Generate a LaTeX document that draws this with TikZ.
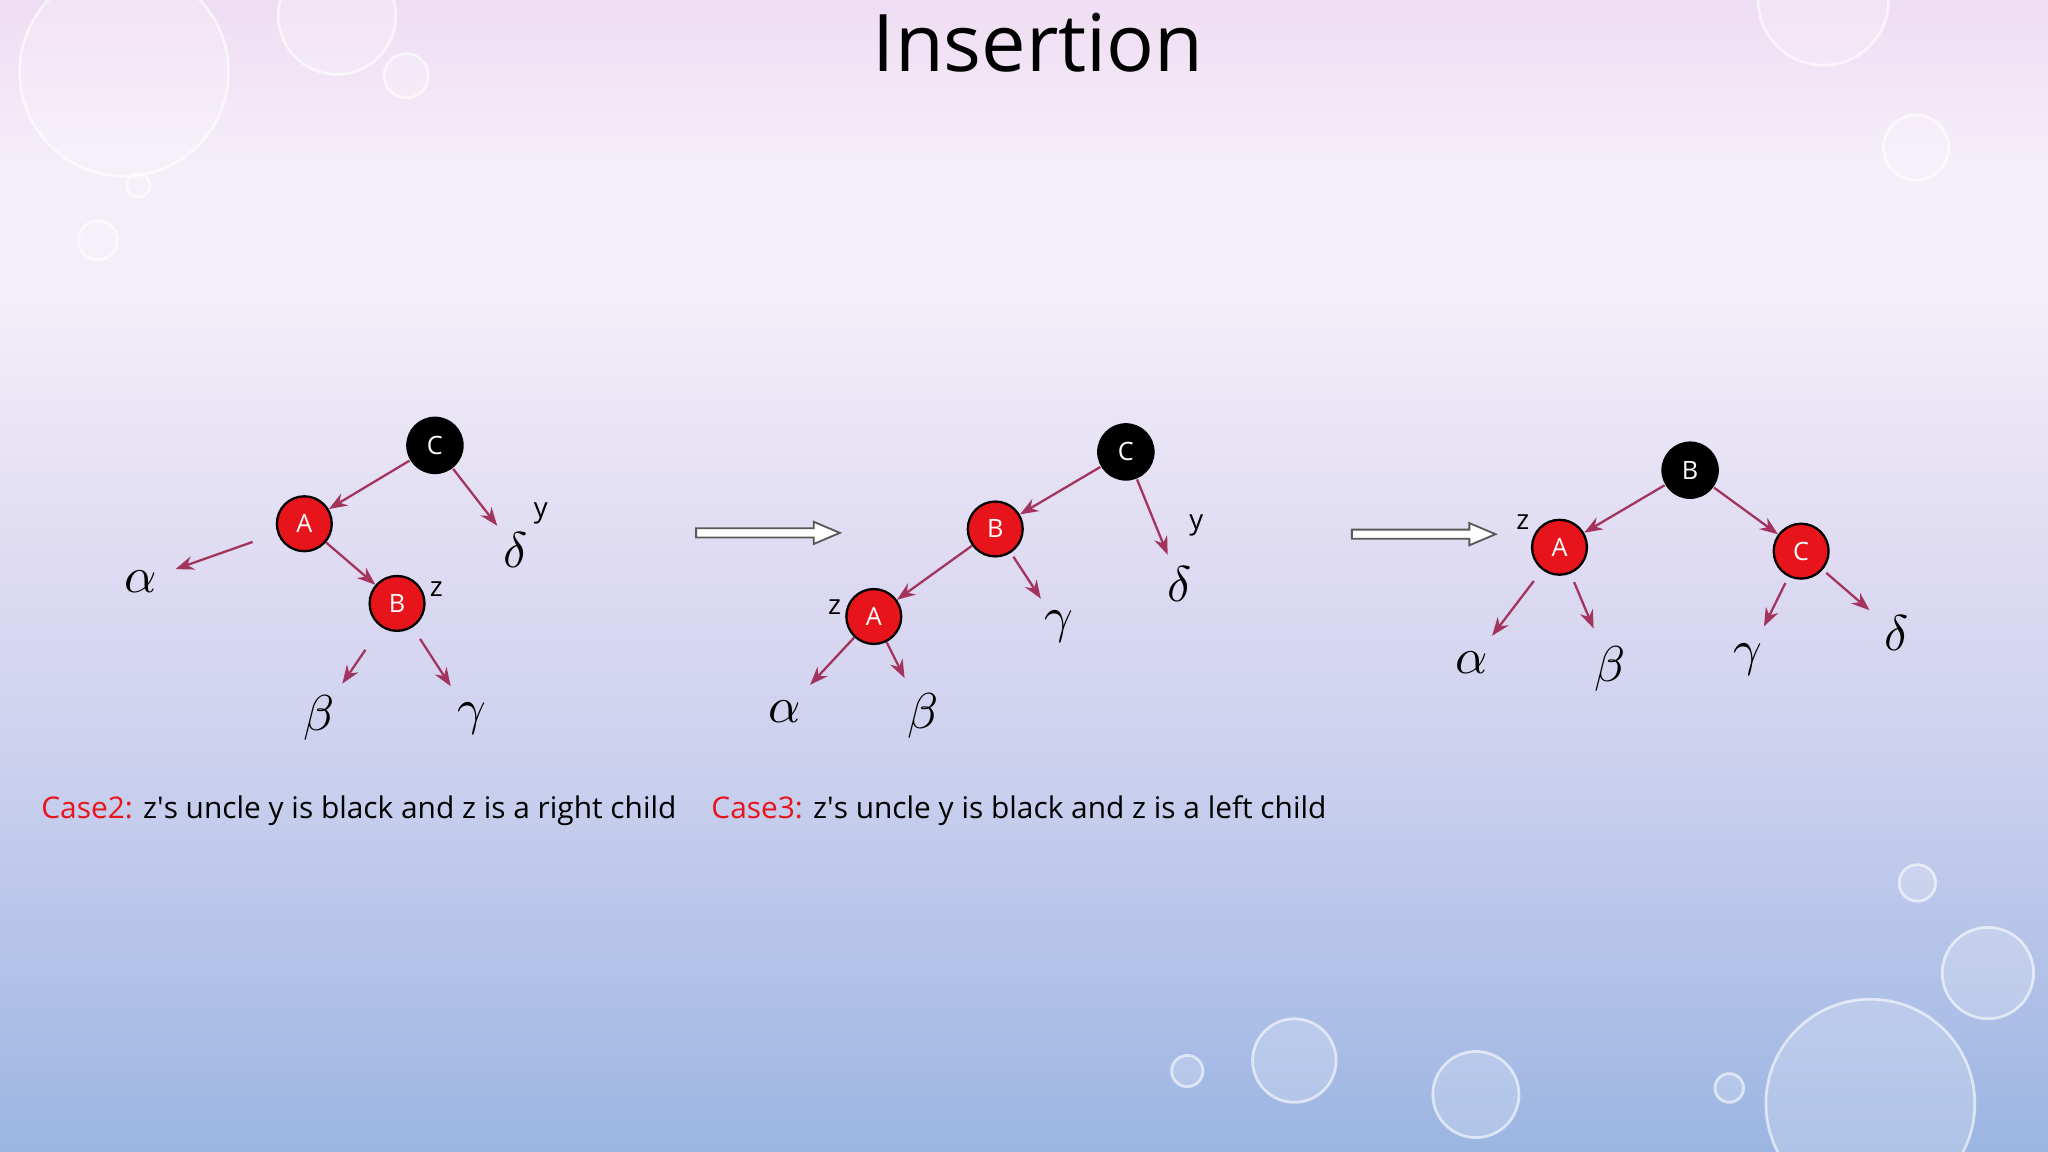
\documentclass[tikz,border=0pt]{standalone}
\usepackage{fontspec}
\setmainfont{Open Sans}
\usetikzlibrary{arrows.meta}
\definecolor{arr}{HTML}{A3345E}
\definecolor{rd}{HTML}{E8141B}
\definecolor{bgtop}{HTML}{EFDDF3}
\definecolor{bglight}{HTML}{F4EEF8}
\definecolor{bgmid}{HTML}{DDDAF2}
\definecolor{bgbot}{HTML}{9BB5E2}
\pgfdeclareverticalshading{bgshade}{100bp}{color(0bp)=(bgbot); color(25bp)=(bgbot); color(42bp)=(bgmid!75!bgbot); color(50bp)=(bgmid); color(62bp)=(bglight); color(68bp)=(bglight); color(75bp)=(bgtop); color(100bp)=(bgtop)}
\begin{document}
\begin{tikzpicture}[x=0.01cm,y=-0.01cm,
 rn/.style={circle,fill=rd,draw=black,line width=0.5pt,minimum size=0.42cm,inner sep=0pt,text=white,font=\fontsize{5.5}{6}\selectfont},
 bn/.style={circle,fill=black,minimum size=0.44cm,inner sep=0pt,text=white,font=\fontsize{5.5}{6}\selectfont},
 gr/.style={inner sep=0pt,font=\fontsize{10.5}{12}\selectfont},
 lb/.style={inner sep=0pt,font=\fontsize{6}{7}\selectfont},
 ed/.style={draw=arr,line width=0.5pt,-{Stealth[length=4pt,width=3pt]}},
 drop/.style={draw=white,draw opacity=0.6,line width=0.6pt,fill=white,fill opacity=0.2},
 bigarr/.style={draw=gray!70!black,fill=white,line width=0.4pt}]
\useasboundingbox (0,0) rectangle (1568,882);
\shade[shading=bgshade] (0,0) rectangle (1568,882);
% droplets
\foreach \x/\y/\r in {95/55/80,258/12/45,311/58/17,106/142/9,75/184/15,1396/0/50,1467/113/25,1468/676/14,1522/745/35,1432/845/80,991/812/32,1130/838/33,909/820/12,1324/833/11}
 \path[drop] (\x,\y) circle[radius=\r];
\node (title) at (795,33) {\fontsize{17.3}{20}\selectfont Insertion};
% case 2 tree
\node[bn] (C1) at (333,341) {C};
\node[rn] (A1) at (233,401) {A};
\node[rn] (B1) at (304,462) {B};
\node[gr] (al1) at (108,445) {$\alpha$};
\node[gr] (de1) at (395,421) {$\delta$};
\node[lb] (y1) at (414,393) {y};
\node[lb] (z1) at (334,451) {z};
\node[gr] (be1) at (244,550) {$\beta$};
\node[gr] (ga1) at (361,550) {$\gamma$};
\draw[ed] (C1) -- (A1);
\draw[ed,shorten <=5.7pt,shorten >=4pt] (A1) -- (al1);
\draw[ed,shorten >=2pt] (C1) -- (de1);
\draw[ed] (A1) -- (B1);
\draw[ed,shorten <=6pt,shorten >=3pt] (B1) -- (be1);
\draw[ed,shorten <=3pt,shorten >=4pt] (B1) -- (ga1);
% arrows between
\coordinate (p1) at (533,408);
\coordinate (p2) at (1035,409);
\foreach \p in {p1,p2}
 \draw[bigarr] ([yshift=0.035cm]\p) -- ++(90,0) -- ++(0,0.05cm) -- ++(20,-0.085cm) -- ++(-20,-0.085cm) -- ++(0,0.05cm) -- ++(-90,0) -- cycle;
% case 3 tree
\node[bn] (C2) at (862,346) {C};
\node[rn] (B2) at (762,405) {B};
\node[rn] (A2) at (669,472) {A};
\node[lb] (y2) at (916,402) {y};
\node[gr] (de2) at (903,447) {$\delta$};
\node[gr] (ga2) at (811,480) {$\gamma$};
\node[lb] (z2) at (639,465) {z};
\node[gr] (al2) at (601,545) {$\alpha$};
\node[gr] (be2) at (707,548) {$\beta$};
\draw[ed] (C2) -- (B2);
\draw[ed,shorten >=2.5pt] (C2) -- (de2);
\draw[ed] (B2) -- (A2);
\draw[ed,shorten <=1pt,shorten >=3pt] (B2) -- (ga2);
\draw[ed,shorten >=4.5pt] (A2) -- (al2);
\draw[ed,shorten >=3.5pt] (A2) -- (be2);
% result tree
\node[bn] (B3) at (1294,360) {B};
\node[rn] (A3) at (1194,419) {A};
\node[rn] (C3) at (1379,422) {C};
\node[lb] (z3) at (1166,400) {z};
\node[gr] (al3) at (1127,507) {$\alpha$};
\node[gr] (be3) at (1233,512) {$\beta$};
\node[gr] (ga3) at (1338,505) {$\gamma$};
\node[gr] (de3) at (1452,485) {$\delta$};
\draw[ed] (B3) -- (A3);
\draw[ed] (B3) -- (C3);
\draw[ed,shorten <=3pt,shorten >=4pt] (A3) -- (al3);
\draw[ed,shorten <=2pt,shorten >=4pt] (A3) -- (be3);
\draw[ed,shorten <=1.5pt,shorten >=4pt] (C3) -- (ga3);
\draw[ed,shorten <=1pt,shorten >=4pt] (C3) -- (de3);
% captions
\node[anchor=west,inner sep=0pt,font=\fontsize{6.5}{8}\selectfont] (cap2) at (31,621) {\textcolor{rd}{Case2:} z\textquotesingle s uncle y is black and z is a right child};
\node[anchor=west,inner sep=0pt,font=\fontsize{6.5}{8}\selectfont] (cap3) at (544,621) {\textcolor{rd}{Case3:} z\textquotesingle s uncle y is black and z is a left child};
\end{tikzpicture}
\end{document}
